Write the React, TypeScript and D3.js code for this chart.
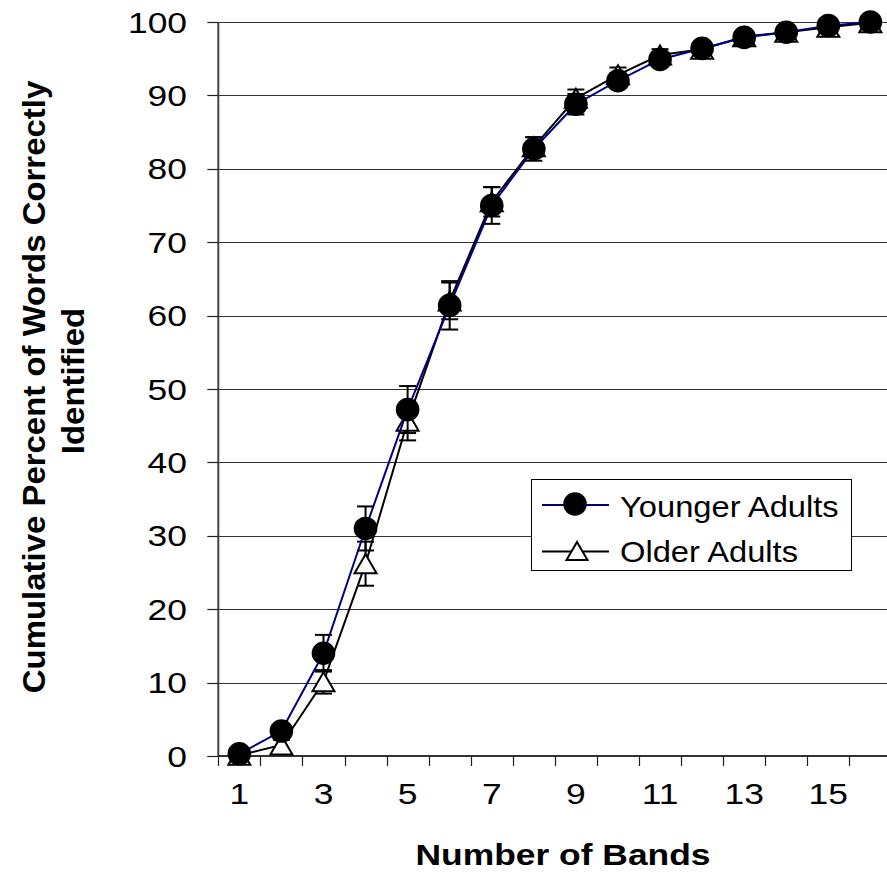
import React from "react";
import * as d3 from "d3";

const bands = [1, 2, 3, 4, 5, 6, 7, 8, 9, 10, 11, 12, 13, 14, 15, 16];
const youngerMeans = [0.3, 3.4, 14.0, 31.0, 47.2, 61.4, 75.0, 82.7, 88.8, 92.0, 94.9, 96.4, 97.9, 98.6, 99.5, 100];
const youngerErr = [0.3, 0.8, 2.5, 3.0, 3.2, 3.3, 2.5, 1.6, 1.4, 1.0, 0.8, 0.6, 0.5, 0.4, 0.3, 0.1];
const olderMeans = [0.1, 1.5, 10.1, 26.2, 45.6, 62.0, 75.5, 83.0, 89.6, 92.8, 95.5, 96.3, 98.0, 98.6, 99.3, 99.9];
const olderErr = [0.3, 0.7, 1.6, 3.0, 2.6, 2.5, 2.0, 1.3, 1.2, 1.0, 0.8, 0.6, 0.5, 0.4, 0.3, 0.1];
const yTicks = [0, 10, 20, 30, 40, 50, 60, 70, 80, 90, 100];
const xTickLabels = [1, 3, 5, 7, 9, 11, 13, 15];
const seriesNames = ["Younger Adults", "Older Adults"];

const FONT = "'Liberation Sans', Arial, Helvetica, sans-serif";

export default function App() {
  const left = 218.3;
  const bw = 42.07;
  const x = d3
    .scaleBand<number>()
    .domain(bands)
    .range([left, left + bw * bands.length])
    .padding(0);
  const y = d3.scaleLinear().domain([0, 100]).range([756, 22]);
  const cx = (b: number) => (x(b) as number) + x.bandwidth() / 2;
  const W = 887;
  const H = 872;

  const line = d3
    .line<number>()
    .x((_, i) => cx(bands[i]))
    .y((d) => y(d));

  const triPath = (w: number, h: number) =>
    `M0,${-h / 2} L${w / 2},${h / 2} L${-w / 2},${h / 2} Z`;

  const cap = 8.5;

  const errBars = (means: number[], errs: number[], key: string) =>
    means.map((m, i) => {
      const px = cx(bands[i]);
      const y1 = y(m + errs[i]);
      const y2 = y(m - errs[i]);
      return (
        <g key={key + i} stroke="#000" strokeWidth={2}>
          <line x1={px} x2={px} y1={y1} y2={y2} />
          <line x1={px - cap} x2={px + cap} y1={y1} y2={y1} />
          <line x1={px - cap} x2={px + cap} y1={y2} y2={y2} />
        </g>
      );
    });

  return (
    <svg
      width={W}
      height={H}
      style={{ position: "absolute", left: 0, top: 0, background: "#fff" }}
      fontFamily={FONT}
    >
      <rect x={0} y={0} width={W} height={H} fill="#fff" />
      {/* gridlines */}
      {yTicks.slice(1).map((t) => (
        <line
          key={"g" + t}
          x1={left}
          x2={W}
          y1={Math.round(y(t)) + 0.5}
          y2={Math.round(y(t)) + 0.5}
          stroke="#333"
          strokeWidth={1.2}
        />
      ))}
      {/* y axis */}
      <line x1={left} x2={left} y1={y(100)} y2={y(0)} stroke="#444" strokeWidth={2} />
      {yTicks.map((t) => (
        <line
          key={"yt" + t}
          x1={left - 11}
          x2={left}
          y1={Math.round(y(t)) + 0.5}
          y2={Math.round(y(t)) + 0.5}
          stroke="#222"
          strokeWidth={1.2}
        />
      ))}
      {yTicks.map((t) => (
        <text
          key={"yl" + t}
          transform={`translate(187, ${y(t) + 10.6}) scale(1.2,1)`}
          textAnchor="end"
          fontSize={29.5}
          fill="#000"
        >
          {t}
        </text>
      ))}
      {/* x axis */}
      <line x1={left} x2={W} y1={y(0)} y2={y(0)} stroke="#333" strokeWidth={2} />
      {bands.map((b) => (
        <line
          key={"xt" + b}
          x1={Math.round(x(b) as number) + 0.5}
          x2={Math.round(x(b) as number) + 0.5}
          y1={y(0)}
          y2={y(0) + 10}
          stroke="#222"
          strokeWidth={1.2}
        />
      ))}
      {xTickLabels.map((b) => (
        <text
          key={"xl" + b}
          transform={`translate(${cx(b)}, 804) scale(1.2,1)`}
          textAnchor="middle"
          fontSize={29.5}
          fill="#000"
        >
          {b}
        </text>
      ))}
      {/* axis titles */}
      <text
        transform="translate(563, 865) scale(1.2,1)"
        textAnchor="middle"
        fontSize={29.5}
        fontWeight="bold"
        fill="#000"
      >
        Number of Bands
      </text>
      <text
        transform="translate(45, 387) rotate(-90) scale(1.08,1)"
        textAnchor="middle"
        fontSize={30.5}
        fontWeight="bold"
        fill="#000"
      >
        Cumulative Percent of Words Correctly
      </text>
      <text
        transform="translate(84, 381) rotate(-90) scale(1.08,1)"
        textAnchor="middle"
        fontSize={30.5}
        fontWeight="bold"
        fill="#000"
      >
        Identified
      </text>

      {/* older series */}
      <path d={line(olderMeans) as string} fill="none" stroke="#000" strokeWidth={2} />
      {errBars(olderMeans, olderErr, "oe")}
      {olderMeans.map((m, i) => (
        <path
          key={"ot" + i}
          d={triPath(22, 19)}
          transform={`translate(${cx(bands[i])}, ${y(m)})`}
          fill="#fff"
          stroke="#000"
          strokeWidth={2}
        />
      ))}
      {/* younger series */}
      <path d={line(youngerMeans) as string} fill="none" stroke="#000080" strokeWidth={2} />
      {errBars(youngerMeans, youngerErr, "ye")}
      {youngerMeans.map((m, i) => (
        <circle key={"yc" + i} cx={cx(bands[i])} cy={y(m)} r={11.8} fill="#000" />
      ))}

      {/* legend */}
      <g>
        <rect x={531.5} y={479.5} width={320} height={91} fill="#fff" stroke="#000" strokeWidth={1} />
        <line x1={542} x2={609} y1={505} y2={505} stroke="#000080" strokeWidth={2} />
        <circle cx={575} cy={504} r={11.8} fill="#000" />
        <text transform="translate(620, 516.7) scale(1.09,1)" fontSize={30} fill="#000">
          {seriesNames[0]}
        </text>
        <line x1={542} x2={609} y1={551.5} y2={551.5} stroke="#000" strokeWidth={2} />
        <path d={triPath(21, 18)} transform="translate(577, 551)" fill="#fff" stroke="#000" strokeWidth={2} />
        <text transform="translate(620, 561.5) scale(1.09,1)" fontSize={30} fill="#000">
          {seriesNames[1]}
        </text>
      </g>
    </svg>
  );
}
